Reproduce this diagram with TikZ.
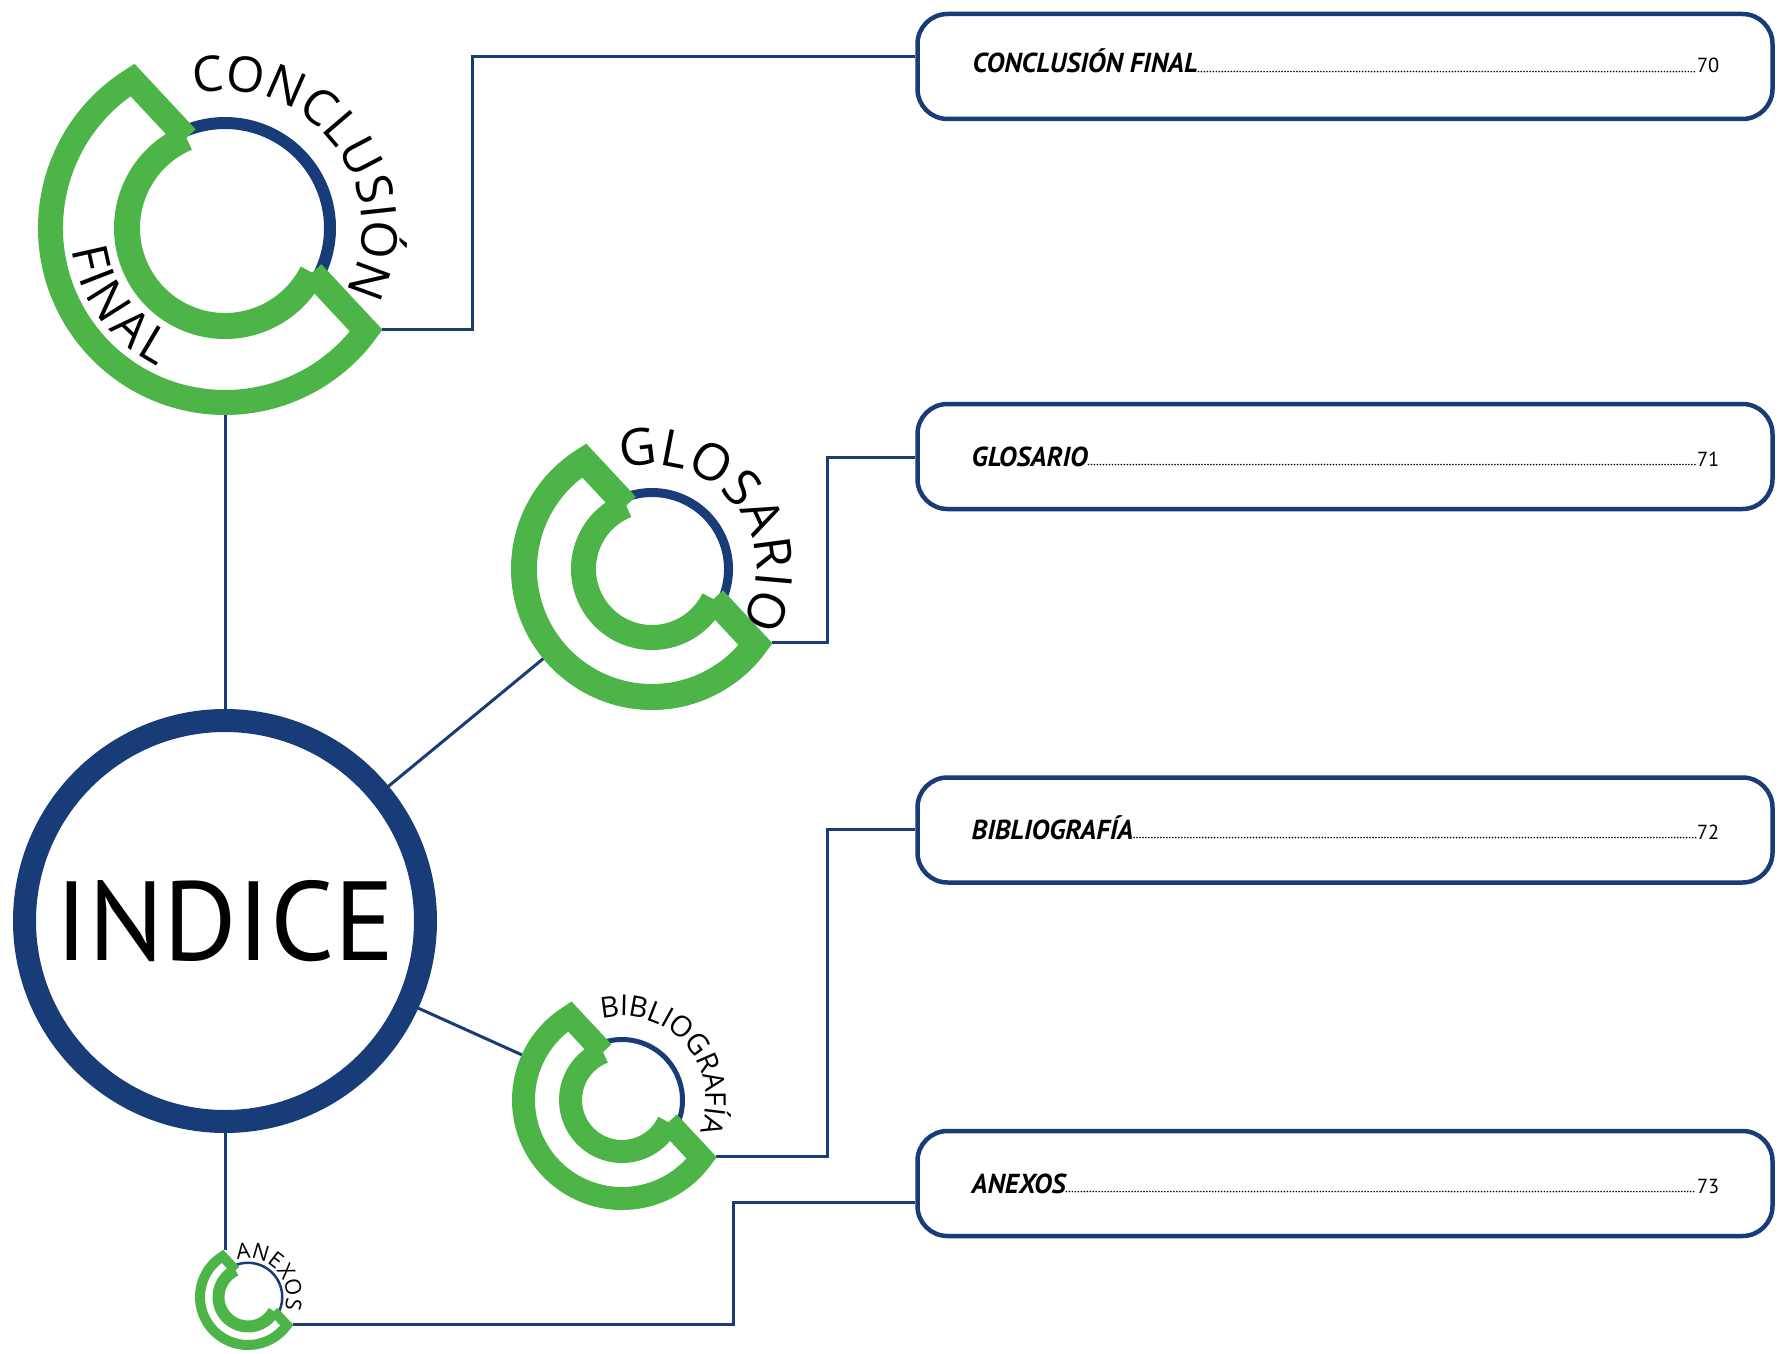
\documentclass[tikz,border=0pt]{standalone}
\usepackage{fontspec}
\setmainfont{PT Sans}
\newfontfamily\arcfont{Open Sans}
\usetikzlibrary{decorations.text,calc}
\definecolor{grn}{RGB}{77,180,72}
\definecolor{navy}{RGB}{23,60,119}
\pgfdeclarelayer{bg}
\pgfsetlayers{bg,main}

% #1 name, #2 centre, #3 R (outer edge of inner ring), #4 inner ring width,
% #5 blue width, #6 outer edge of outer C, #7 outer C width
\newcommand{\ringC}[7]{%
 \begin{scope}[shift={#2}]
 \pgfmathsetmacro{\CRi}{#3-#4/2}
 \pgfmathsetmacro{\CRb}{#3-#5/2}
 \pgfmathsetmacro{\CRo}{#6-#7/2}
 \pgfmathsetmacro{\CRd}{\CRo*cos(79)}
 \pgfmathsetmacro{\CRa}{acos(\CRd/\CRi)}
 \pgfmathsetmacro{\CRaOne}{43+\CRa}
 \pgfmathsetmacro{\CRaTwo}{43-\CRa}
 \pgfmathsetmacro{\CRaTwoF}{403-\CRa}
 \pgfmathsetmacro{\CRc}{acos((\CRd+#7/2)/#6)}
 \pgfmathsetmacro{\CRcTop}{43+\CRc}
 \pgfmathsetmacro{\CRcBot}{43-\CRc}
 \pgfmathsetmacro{\CRdO}{2*\CRo}
 \node[circle, inner sep=0pt, outer sep=0pt, minimum size=\CRdO cm] (#1) at (0,0) {};
 \coordinate (#1-top) at (\CRcTop:#6);
 \coordinate (#1-bot) at (\CRcBot:#6);
 \draw[navy, line width=#5cm] (\CRaTwo:\CRb) arc[start angle=\CRaTwo, end angle=\CRaOne, radius=\CRb];
 \draw[grn, line width=#4cm] (\CRaOne:\CRi) arc[start angle=\CRaOne, end angle=\CRaTwoF, radius=\CRi];
 \draw[grn, line width=#7cm, line join=miter] (\CRaOne:\CRi) -- (122:\CRo)
   arc[start angle=122, end angle=324, radius=\CRo] -- (\CRaTwo:\CRi);
 \end{scope}}

% #1 centre, #2 baseline radius, #3 start angle, #4 end angle, #5 font size, #6 text
\newcommand{\arcText}[6]{%
 \path[shift={#1}, decorate, decoration={text effects along path, text={#6},
   text effects/.cd, text along path, fit text to path,
   characters={font=\arcfont\fontsize{#5}{#5}\selectfont}}]
   (#3:#2) arc[start angle=#3, end angle=#4, radius=#2];}

\begin{document}
\begin{tikzpicture}
\useasboundingbox (0,0) rectangle (17.87,-13.54);
\tikzset{
 conn/.style={navy, line width=0.03cm},
 tocbox/.style={draw=navy, line width=0.045cm, rounded corners=0.3cm,
   minimum width=8.55cm, minimum height=1.05cm},
 toclbl/.style={font=\fontsize{7.8}{9}\selectfont\bfseries\itshape, inner sep=0pt, anchor=base west},
 tocnum/.style={font=\fontsize{5.8}{7}\selectfont, inner sep=0pt, anchor=base east},
 leader/.style={line width=0.5pt, dash pattern=on 0pt off 0.85pt, line cap=round}
}
\node[circle, draw=navy, line width=0.23cm, minimum size=4.01cm,
  font=\fontsize{32}{36}\selectfont] (indice) at (2.25,-9.21) {INDICE};

\ringC{concl}{(2.25,-2.28)}{1.11}{0.26}{0.12}{1.87}{0.25}
\ringC{glos}{(6.52,-5.69)}{0.81}{0.25}{0.09}{1.41}{0.26}
\ringC{bib}{(6.22,-11.00)}{0.63}{0.23}{0.05}{1.10}{0.23}
\ringC{anx}{(2.48,-12.97)}{0.355}{0.12}{0.025}{0.53}{0.10}

\arcText{(2.25,-2.28)}{1.37}{103}{-28}{14}{CONCLUSIÓN}
\arcText{(2.25,-2.28)}{1.54}{188}{244}{14}{FINAL}
\arcText{(6.52,-5.69)}{1.04}{107}{-31}{14.5}{GLOSARIO}
\arcText{(6.22,-11.00)}{0.84}{104}{-22}{8.2}{BIBLIOGRAFÍA}
\path[shift={(2.48,-12.97)}, decorate, decoration={text along path,
   text={|\arcfont\fontsize{6.2}{6.2}\selectfont|ANEXOS}, text align=center}]
   (110:0.385) arc[start angle=110, end angle=-22, radius=0.385];

\node[tocbox] (b1) at (13.45,-0.665) {};
\node[tocbox] (b2) at (13.45,-4.565) {};
\node[tocbox] (b3) at (13.45,-8.30) {};
\node[tocbox] (b4) at (13.45,-11.835) {};

\node[toclbl] (t1) at (9.72,-0.73) {CONCLUSIÓN FINAL};
\node[tocnum] (n1) at (17.20,-0.73) {70};
\node[toclbl] (t2) at (9.71,-4.66) {GLOSARIO};
\node[tocnum] (n2) at (17.20,-4.66) {71};
\node[toclbl] (t3) at (9.71,-8.39) {BIBLIOGRAFÍA};
\node[tocnum] (n3) at (17.20,-8.39) {72};
\node[toclbl] (t4) at (9.71,-11.93) {ANEXOS};
\node[tocnum] (n4) at (17.20,-11.93) {73};
\foreach \i in {1,2,3,4}{
  \draw[leader] ([yshift=0.4pt]t\i.base east) -- ([yshift=0.4pt]n\i.base west);
}

\begin{pgfonlayer}{bg}
\draw[conn] (concl) -- (indice);
\draw[conn] (indice) -- (glos);
\draw[conn] (indice) -- (bib);
\draw[conn] (indice.south) -- (indice.south |- anx-top);
\coordinate (j1) at (4.72,-0.57);
\coordinate (j2) at (8.27,-4.57);
\coordinate (j3) at (8.27,-8.29);
\coordinate (j4) at (7.33,-12.02);
\draw[conn] (concl-bot) -| (j1) -- (j1 -| b1.west);
\draw[conn] (glos-bot) -| (j2) -- (j2 -| b2.west);
\draw[conn] (bib-bot) -| (j3) -- (j3 -| b3.west);
\draw[conn] (anx-bot) -| (j4) -- (j4 -| b4.west);
\end{pgfonlayer}
\end{tikzpicture}
\end{document}
